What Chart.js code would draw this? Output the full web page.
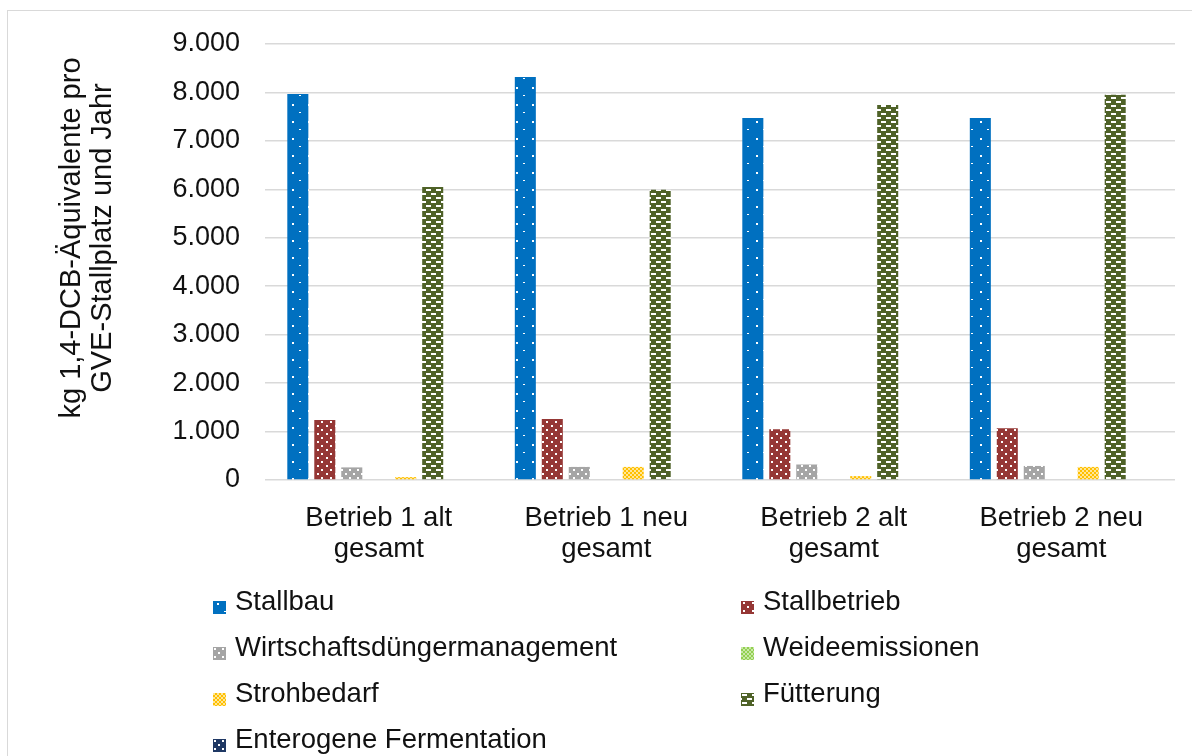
<!DOCTYPE html>
<html lang="de">
<head>
<meta charset="utf-8">
<title>Stall – kg 1,4-DCB-Äquivalente</title>
<script src="https://cdn.jsdelivr.net/npm/chart.js@4.4.1/dist/chart.umd.min.js"></script>
<style>
  html, body { margin: 0; padding: 0; background: #fff; overflow: hidden; }
  body { width: 1192px; height: 756px; position: relative; font-family: "Liberation Sans", Arial, sans-serif; }
  #frame { position: absolute; left: 7px; top: 10px; width: 1300px; height: 900px; border: 1px solid #d9d9d9; box-sizing: border-box; }
  #wrap { position: absolute; left: 0; top: 0; width: 1192px; height: 756px; }
  .lg { position: absolute; font-size: 27.5px; line-height: 30px; color: #111; white-space: nowrap; }
  .sw { position: absolute; width: 13px; height: 13px; }
</style>
</head>
<body>
<div id="frame"></div>
<div id="wrap"><canvas id="chart"></canvas></div>
<div id="legend"></div>
<script>
// Kategorien (Betriebe) und Werte je Emissionsquelle
const betriebe = [["Betrieb 1 alt", "gesamt"], ["Betrieb 1 neu", "gesamt"], ["Betrieb 2 alt", "gesamt"], ["Betrieb 2 neu", "gesamt"]];
const stallbau = [7970, 8320, 7470, 7470];
const stallbetrieb = [1240, 1260, 1050, 1070];
const wirtschaftsduenger = [260, 270, 320, 290];
const weideemissionen = [0, 0, 0, 0];
const strohbedarf = [60, 270, 80, 270];
const fuetterung = [6050, 5990, 7740, 7950];
const enterogen = [0, 0, 0, 0];
const yTicks = [0, 1000, 2000, 3000, 4000, 5000, 6000, 7000, 8000, 9000];
const achsenTitel = ["kg 1,4-DCB-Äquivalente pro", "GVE-Stallplatz und Jahr"];

// kleine Kacheln als Füllmuster
function tile(w, h, bg, draw) {
  const c = document.createElement("canvas");
  c.width = w; c.height = h;
  const g = c.getContext("2d");
  g.fillStyle = bg;
  g.fillRect(0, 0, w, h);
  g.fillStyle = "#fff";
  draw(g);
  return c;
}

const tiles = {
  stallbau: tile(16, 17, "#0070c0", g => { g.fillRect(4, 2, 2, 2); g.fillRect(11, 10, 2, 1); }),
  stallbetrieb: tile(9, 8, "#953735", g => { g.fillRect(2, 1, 2, 2); g.fillRect(6, 5, 2, 2); }),
  wirtschaft: tile(8, 8, "#a5a5a5", g => { g.fillRect(1, 1, 2, 2); g.fillRect(5, 5, 2, 2); }),
  weide: tile(4, 4, "#92d050", g => { g.fillStyle = "#c9e8a7"; g.fillRect(0, 0, 2, 2); g.fillRect(2, 2, 2, 2); }),
  stroh: tile(4, 4, "#ffc000", g => { g.fillStyle = "#ffe699"; g.fillRect(0, 0, 2, 2); g.fillRect(2, 2, 2, 2); }),
  fuetterung: tile(10, 8, "#4f6228", g => { g.fillRect(1, 1, 5, 2); g.fillRect(6, 5, 5, 2); g.fillRect(0, 5, 1, 2); }),
  enterogen: tile(8, 8, "#1f3864", g => { g.fillRect(1, 1, 2, 2); g.fillRect(5, 5, 2, 2); })
};

const canvas = document.getElementById("chart");
const ctx = canvas.getContext("2d");
const pat = k => ctx.createPattern(tiles[k], "repeat");

const reihen = [
  { label: "Stallbau", data: stallbau, key: "stallbau" },
  { label: "Stallbetrieb", data: stallbetrieb, key: "stallbetrieb" },
  { label: "Wirtschaftsdüngermanagement", data: wirtschaftsduenger, key: "wirtschaft" },
  { label: "Weideemissionen", data: weideemissionen, key: "weide" },
  { label: "Strohbedarf", data: strohbedarf, key: "stroh" },
  { label: "Fütterung", data: fuetterung, key: "fuetterung" },
  { label: "Enterogene Fermentation", data: enterogen, key: "enterogen" }
];

function tausender(v) {
  return String(v).replace(/\B(?=(\d{3})+(?!\d))/g, ".");
}

// Achsentitel links, etwas über der Mitte der Zeichenfläche
const titelPlugin = {
  id: "achsenTitel",
  afterDraw(chart) {
    const c = chart.ctx;
    const cy = (chart.chartArea.top + chart.chartArea.bottom) / 2 - 24;
    c.save();
    c.translate(72, cy);
    c.rotate(-Math.PI / 2);
    c.font = '29px "Liberation Sans", Arial, sans-serif';
    c.fillStyle = "#111";
    c.textAlign = "center";
    c.textBaseline = "middle";
    achsenTitel.forEach((t, i) => c.fillText(t, 0, i * 31));
    c.restore();
  }
};

Chart.defaults.font.family = '"Liberation Sans", Arial, sans-serif';
Chart.defaults.font.size = 27;
Chart.defaults.color = "#111";

new Chart(ctx, {
  type: "bar",
  data: {
    labels: betriebe,
    datasets: reihen.map(r => ({
      label: r.label,
      data: r.data,
      backgroundColor: pat(r.key),
      borderWidth: 0,
      categoryPercentage: 0.83,
      barPercentage: 0.78
    }))
  },
  options: {
    responsive: true,
    maintainAspectRatio: false,
    animation: false,
    layout: { padding: { left: 0, right: 17, top: 44, bottom: 176 } },
    plugins: { legend: { display: false }, tooltip: { enabled: false } },
    scales: {
      x: {
        grid: { display: false },
        border: { display: false },
        ticks: { padding: 15, maxRotation: 0, font: { size: 27.5, lineHeight: 1.13 } },
        afterFit: axis => { axis.height = 100; }
      },
      y: {
        min: 0,
        max: 9000,
        afterBuildTicks: axis => { axis.ticks = yTicks.map(v => ({ value: v })); },
        ticks: { padding: 25, callback: v => tausender(v) },
        grid: { color: "#d9d9d9", lineWidth: 1.5, drawTicks: false },
        border: { display: false },
        afterFit: axis => { axis.width = 265; }
      }
    }
  },
  plugins: [titelPlugin]
});

// Legende in zwei Spalten
const legend = document.getElementById("legend");
reihen.forEach((r, i) => {
  const col = i % 2, row = Math.floor(i / 2);
  const baseline = 611 + row * 46;
  const sx = col === 0 ? 213 : 741;
  const tx = col === 0 ? 235 : 763;
  const sw = document.createElement("canvas");
  sw.className = "sw";
  sw.width = 13; sw.height = 13;
  sw.style.left = sx + "px";
  sw.style.top = (baseline - 10) + "px";
  const sg = sw.getContext("2d");
  sg.fillStyle = sg.createPattern(tiles[r.key], "repeat");
  sg.fillRect(0, 0, 13, 13);
  legend.appendChild(sw);
  const t = document.createElement("div");
  t.className = "lg";
  t.textContent = r.label;
  t.style.left = tx + "px";
  t.style.top = (baseline - 25) + "px";
  legend.appendChild(t);
});
</script>
</body>
</html>
